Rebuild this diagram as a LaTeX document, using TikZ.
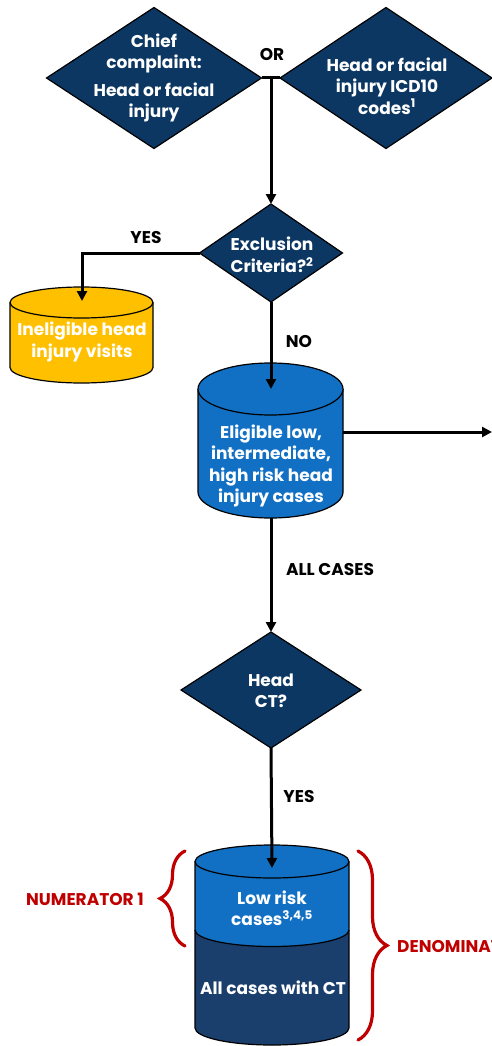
\documentclass[tikz,border=0pt]{standalone}
\usepackage{fontspec}
\setmainfont{Poppins}
\usetikzlibrary{shapes.geometric,arrows.meta,decorations.pathreplacing}
\definecolor{navy}{HTML}{0D3763}
\definecolor{cylblue}{HTML}{1170C4}
\definecolor{cyldark}{HTML}{1B3F6D}
\definecolor{ambr}{HTML}{FFC000}
\definecolor{redtx}{HTML}{C00000}
\begin{document}
\begin{tikzpicture}[x=1pt,y=-1pt,
  dia/.style={diamond, draw=black, line width=1.2pt, fill=navy, inner sep=0pt, outer sep=0pt},
  wtxt/.style={text=white, font=\fontsize{17}{21.5}\selectfont\bfseries, align=center, inner sep=0pt},
  lbl/.style={font=\fontsize{17}{20}\selectfont\bfseries, inner sep=0pt},
  rlbl/.style={lbl, text=redtx},
  conn/.style={line width=3pt},
  arr/.style={conn, -{Triangle[length=10pt,width=10pt]}},
  cyl/.style={draw=black, line width=1.2pt},
  brc/.style={draw=redtx, line width=3.2pt, line cap=round, decorate},
  anchorbox/.style={inner sep=0pt, outer sep=0pt, minimum height=2pt}
]
\clip (0,0) rectangle (492,1046);
\useasboundingbox (0,0) rectangle (492,1046);

% ---------- top diamonds ----------
\node[dia, minimum width=215pt, minimum height=141pt] (cc) at (154,78) {};
\node[wtxt] (cct) at (154,78) {Chief\\complaint:\\[6pt]Head or facial\\injury};
\node[dia, minimum width=212pt, minimum height=141pt] (icd) at (386,78) {};
\node[wtxt] (icdt) at (387,86) {Head or facial\\injury ICD10\\codes\textsuperscript{1}};
\node[lbl] (or) at (272,55) {OR};
\coordinate (j) at (271,78);
\draw[conn] (cc.east) -- (icd.west);

% ---------- exclusion ----------
\node[dia, minimum width=143pt, minimum height=98pt] (excl) at (271,253) {};
\node[wtxt] (exclt) at (272,255) {Exclusion\\Criteria?\textsuperscript{2}};
\draw[arr] (j) -- (excl.north);

% ---------- ineligible cylinder ----------
\fill[ambr] (10,302.5) -- (10,367.5) arc[start angle=180,end angle=360,x radius=71.5pt,y radius=15.5pt] -- (153,302.5) -- cycle;
\draw[cyl] (10,302.5) -- (10,367.5) arc[start angle=180,end angle=360,x radius=71.5pt,y radius=15.5pt] -- (153,302.5);
\filldraw[cyl, fill=ambr] (81.5,302.5) ellipse[x radius=71.5pt, y radius=15.5pt];
\node[wtxt] (inel) at (82,342) {Ineligible head\\injury visits};
\coordinate (inelTop) at (82,301);
\draw[arr] (excl.west) -| (inelTop);
\node[lbl] (yes1) at (146,238) {YES};

% ---------- eligible cylinder ----------
\fill[cylblue] (198,389) -- (198,492) arc[start angle=180,end angle=360,x radius=72.5pt,y radius=26pt] -- (343,389) -- cycle;
\draw[cyl] (198,389) -- (198,492) arc[start angle=180,end angle=360,x radius=72.5pt,y radius=26pt] -- (343,389);
\filldraw[cyl, fill=cylblue] (270.5,389) ellipse[x radius=72.5pt, y radius=26pt];
\node[wtxt] (elig) at (271,466) {Eligible low,\\intermediate,\\high risk head\\injury cases};
\node[anchorbox, minimum width=145pt] (eligbox) at (270.5,432) {};
\coordinate (eligTop) at (271,389);
\coordinate (outR) at (492,432);
\draw[arr] (excl.south) -- (eligTop);
\node[lbl] (no) at (299,342) {NO};
\draw[arr] (eligbox.east) -- (outR);

% ---------- head CT ----------
\node[dia, minimum width=180pt, minimum height=116pt] (hct) at (271,690) {};
\node[wtxt] (hctt) at (271,691) {Head\\CT?};
\coordinate (eligBot) at (271,518);
\draw[arr] (eligBot) -- (hct.north);
\node[lbl] (allc) at (330,570) {ALL CASES};

% ---------- CT cylinder ----------
\fill[cyldark] (195,930) -- (195,1028) arc[start angle=180,end angle=360,x radius=77pt,y radius=17pt] -- (349,930) arc[start angle=0,end angle=-180,x radius=77pt,y radius=16.5pt] -- cycle;
\fill[cylblue] (195,861.5) -- (195,930) arc[start angle=180,end angle=360,x radius=77pt,y radius=16.5pt] -- (349,861.5) -- cycle;
\draw[cyl] (195,861.5) -- (195,1028) arc[start angle=180,end angle=360,x radius=77pt,y radius=17pt] -- (349,861.5);
\draw[cyl] (195,930) arc[start angle=180,end angle=360,x radius=77pt,y radius=16.5pt];
\filldraw[cyl, fill=cylblue] (272,861.5) ellipse[x radius=77pt, y radius=16.5pt];
\node[wtxt] (low) at (272,908) {Low risk\\cases\textsuperscript{3,4,5}};
\node[wtxt] (allct) at (273,988) {All cases with CT};
\coordinate (ctTop) at (272,868);
\draw[arr] (hct.south) -- (ctTop);
\node[lbl] (yes2) at (299,796) {YES};

% ---------- braces ----------
\draw[brc, decoration={brace, amplitude=25pt}] (185,946) -- (185,851);
\draw[brc, decoration={brace, amplitude=29pt}] (358,851) -- (358,1040);
\node[rlbl, anchor=east] (num) at (144,899) {NUMERATOR 1};
\node[rlbl, anchor=west] (den) at (397,946) {DENOMINATOR};
\end{tikzpicture}
\end{document}
